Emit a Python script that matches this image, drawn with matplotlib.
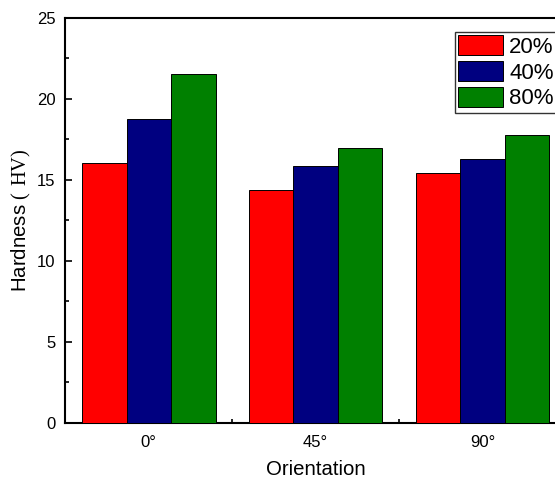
import matplotlib
matplotlib.use("Agg")
import matplotlib.pyplot as plt
from matplotlib.ticker import MultipleLocator, FixedLocator
import numpy as np

plt.rcParams['font.family'] = ['Liberation Sans', 'DejaVu Sans']
plt.rcParams['mathtext.fontset'] = 'custom'
plt.rcParams['mathtext.rm'] = 'Liberation Serif'

# hardness by orientation and deformation level
orientations = ["0°", "45°", "90°"]
levels = ["20%", "40%", "80%"]
hardness = {
    "20%": [16.07, 14.36, 15.45],
    "40%": [18.75, 15.85, 16.31],
    "80%": [21.52, 16.96, 17.78],
}
colors = ["#ff0000", "#000080", "#008000"]

fig = plt.figure(figsize=(5.55, 4.8), dpi=100)
ax = fig.add_axes([0.1177, 0.1188, 0.902, 0.8437])

x = np.arange(len(orientations))
width = 0.8 / len(levels)
for k, (lvl, col) in enumerate(zip(levels, colors)):
    ax.bar(x + (k - 1) * width, hardness[lvl], width, color=col,
           edgecolor='black', linewidth=0.7, label=lvl, zorder=3)

ax.set_xlim(-0.5, 2.5)
ax.set_ylim(0, 25)
ax.set_xticks(x)
ax.set_xticklabels(orientations)
ax.xaxis.set_minor_locator(FixedLocator([0.5, 1.5]))
ax.yaxis.set_major_locator(MultipleLocator(5))
ax.yaxis.set_minor_locator(MultipleLocator(2.5))
ax.tick_params(which='both', direction='in', labelsize=12, width=1.2)
ax.tick_params(which='major', length=5)
ax.tick_params(which='minor', length=3)
ax.tick_params(axis='x', pad=9)
ax.tick_params(axis='y', pad=7)
for sp in ax.spines.values():
    sp.set_linewidth(1.5)

ax.set_xlabel("Orientation", fontsize=14.7, labelpad=7)
ax.set_ylabel(r"Hardness $(\ \mathrm{HV})$", fontsize=14.7, labelpad=3)

# legend sits at the top right, its frame running past the figure edge
leg = ax.legend(loc='upper left', bbox_to_anchor=(0.778, 0.966), fontsize=16,
                frameon=True, fancybox=False, edgecolor='black',
                handlelength=2.0, handleheight=1.0, labelspacing=0.15,
                handletextpad=0.3, borderpad=0.15, borderaxespad=0)
leg.get_frame().set_linewidth(1.0)

fig.savefig("out.png", dpi=100, facecolor='white')
